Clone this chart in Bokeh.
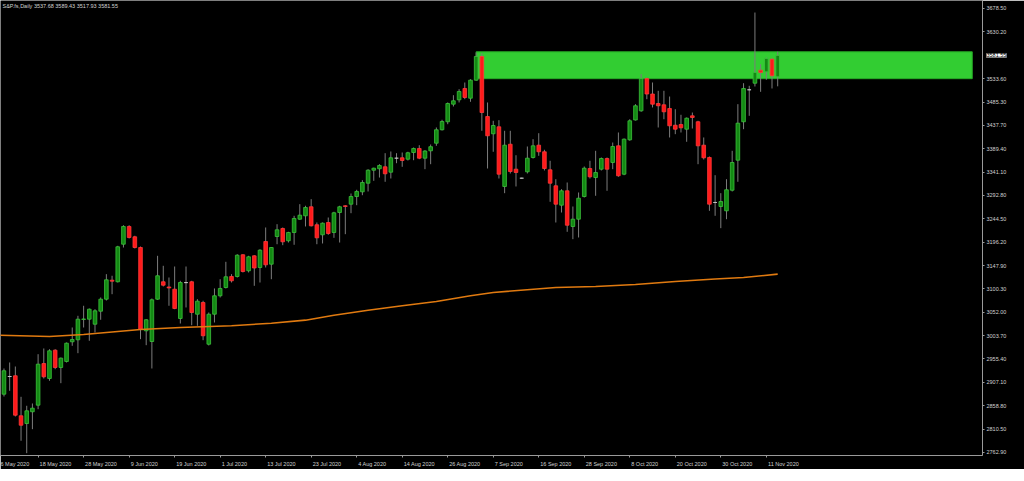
from bokeh.plotting import figure
from bokeh.models import (ColumnDataSource, FixedTicker, Range1d, Label,
                          PrintfTickFormatter)
from bokeh.embed import file_html
from bokeh.resources import INLINE

# ---------------- data (S&P.fs, Daily) ----------------
opens = [2882.8, 2919.3, 2920.8, 2838.2, 2822.3, 2846.5, 2860.1, 2946.1, 2915.2, 2973.6,
         2937.9, 2950.3, 2990.9, 2995.0, 3037.0, 3037.5, 3027.2, 3054.0, 3078.8, 3118.0,
         3114.7, 3192.2, 3228.8, 3207.5, 3185.4, 3013.6, 2991.5, 3078.8, 3114.7, 3104.0,
         3099.4, 3039.0, 3113.0, 3114.7, 3047.8, 3072.0, 2985.9, 3047.8, 3085.8, 3102.9,
         3125.6, 3125.6, 3170.4, 3137.4, 3168.3, 3144.2, 3197.8, 3151.0, 3208.1, 3224.6,
         3199.3, 3216.4, 3243.8, 3250.8, 3269.4, 3232.3, 3211.6, 3237.0, 3216.4, 3257.6,
         3271.5, 3274.8, 3290.6, 3300.3, 3318.1, 3344.9, 3347.8, 3351.9, 3340.8, 3369.7,
         3370.5, 3367.6, 3381.4, 3389.7, 3369.7, 3384.9, 3400.6, 3428.3, 3444.8, 3481.1,
         3490.1, 3513.5, 3493.4, 3530.6, 3579.5, 3455.7, 3420.0, 3434.4, 3311.3, 3398.5,
         3347.0, 3328.4, 3341.6, 3371.1, 3396.5, 3382.9, 3345.7, 3312.7, 3272.7, 3302.4,
         3228.8, 3243.8, 3290.6, 3348.4, 3329.8, 3347.0, 3369.0, 3360.8, 3395.2, 3336.7,
         3407.6, 3448.5, 3467.4, 3534.1, 3502.1, 3482.5, 3479.8, 3472.2, 3437.7, 3439.2,
         3429.5, 3457.1, 3444.8, 3396.5, 3371.1, 3278.3, 3270.0, 3261.1, 3303.6, 3365.5,
         3444.8, 3510.8, 3524.4, 3551.2, 3547.9, 3573.9, 3537.68]
highs = [2935.8, 2948.2, 2939.9, 2877.4, 2858.9, 2863.6, 2965.3, 2977.1, 2975.6, 2975.6,
         2958.5, 2989.4, 3020.4, 3044.5, 3065.2, 3059.6, 3058.1, 3082.3, 3130.4, 3127.1,
         3188.9, 3231.4, 3231.4, 3209.6, 3187.5, 3037.5, 3080.2, 3168.3, 3147.7, 3123.5,
         3146.2, 3116.7, 3146.2, 3116.7, 3078.8, 3075.5, 3051.3, 3100.9, 3120.0, 3155.9,
         3130.4, 3171.6, 3171.6, 3168.3, 3169.5, 3181.9, 3226.7, 3186.0, 3233.5, 3226.7,
         3217.8, 3250.8, 3274.8, 3271.5, 3285.1, 3237.0, 3237.0, 3247.3, 3259.1, 3271.5,
         3272.7, 3296.8, 3304.5, 3324.3, 3347.0, 3350.1, 3357.3, 3380.0, 3383.5, 3380.0,
         3381.4, 3382.9, 3391.7, 3396.5, 3386.2, 3397.9, 3433.0, 3448.9, 3484.6, 3499.6,
         3512.0, 3525.8, 3532.6, 3587.7, 3586.3, 3484.6, 3446.8, 3448.1, 3426.2, 3426.2,
         3375.8, 3329.5, 3393.8, 3408.9, 3421.2, 3387.0, 3364.3, 3326.3, 3305.7, 3319.5,
         3270.0, 3298.9, 3352.5, 3364.3, 3384.9, 3371.1, 3371.1, 3402.0, 3422.7, 3410.3,
         3450.1, 3481.1, 3543.0, 3536.1, 3525.8, 3508.7, 3508.7, 3496.9, 3470.7, 3459.2,
         3453.6, 3463.9, 3446.8, 3412.4, 3373.2, 3334.6, 3297.5, 3326.3, 3384.9, 3481.1,
         3524.4, 3519.0, 3670.2, 3563.6, 3577.4, 3575.3, 3589.43]
lows = [2878.0, 2889.8, 2836.8, 2786.7, 2761.1, 2810.6, 2851.8, 2915.2, 2910.4, 2934.4,
        2905.5, 2948.2, 2982.6, 2967.4, 3020.4, 2993.0, 3010.1, 3036.3, 3076.1, 3089.1,
        3113.2, 3185.4, 3204.0, 3183.4, 2996.3, 2983.9, 2935.8, 3077.5, 3105.0, 3065.2,
        3058.1, 3028.6, 3061.7, 3025.1, 3023.9, 2994.2, 2983.3, 3030.7, 3082.3, 3100.9,
        3113.2, 3123.5, 3133.9, 3133.9, 3106.4, 3113.2, 3144.2, 3120.0, 3192.2, 3190.2,
        3195.7, 3191.0, 3242.6, 3228.8, 3228.8, 3192.2, 3193.7, 3211.6, 3205.4, 3195.7,
        3212.9, 3256.2, 3272.7, 3293.3, 3301.0, 3323.0, 3329.8, 3321.0, 3327.8, 3359.3,
        3351.9, 3364.9, 3365.5, 3367.6, 3347.0, 3357.3, 3395.2, 3426.8, 3439.8, 3476.3,
        3484.6, 3491.4, 3486.0, 3529.3, 3426.2, 3348.4, 3382.9, 3327.8, 3297.5, 3338.1,
        3311.3, 3327.5, 3338.1, 3369.0, 3374.6, 3344.3, 3279.7, 3237.0, 3257.6, 3217.8,
        3202.6, 3206.1, 3288.6, 3327.8, 3292.1, 3344.3, 3302.4, 3347.0, 3331.3, 3334.6,
        3405.6, 3447.4, 3465.4, 3491.4, 3474.3, 3433.0, 3450.1, 3412.4, 3419.2, 3422.7,
        3403.5, 3430.9, 3357.3, 3367.0, 3261.1, 3250.8, 3225.3, 3243.8, 3301.0, 3321.0,
        3429.5, 3457.1, 3517.6, 3506.6, 3531.4, 3513.5, 3517.93]
closes = [2931.1, 2919.3, 2839.5, 2818.8, 2848.5, 2853.9, 2944.7, 2918.7, 2972.3, 2937.9,
          2957.1, 2988.0, 2995.6, 3037.5, 3038.0, 3058.1, 3054.8, 3078.8, 3118.8, 3115.9,
          3186.9, 3228.8, 3206.1, 3185.4, 3016.9, 3036.3, 3077.5, 3127.1, 3107.7, 3102.0,
          3059.6, 3113.2, 3113.0, 3051.3, 3074.7, 3003.3, 3047.8, 3085.8, 3100.9, 3125.0,
          3116.7, 3169.5, 3135.9, 3166.2, 3143.1, 3179.9, 3149.7, 3185.4, 3221.9, 3197.2,
          3216.4, 3245.3, 3252.1, 3268.0, 3230.2, 3205.4, 3235.6, 3214.3, 3257.0, 3269.4,
          3270.0, 3290.6, 3301.0, 3319.5, 3344.9, 3349.0, 3354.6, 3337.5, 3370.5, 3369.7,
          3364.9, 3380.8, 3389.7, 3369.7, 3384.5, 3393.4, 3428.3, 3445.4, 3482.5, 3488.1,
          3507.3, 3494.9, 3530.6, 3579.5, 3463.9, 3415.9, 3437.1, 3336.7, 3396.5, 3342.2,
          3340.2, 3328.4, 3369.7, 3395.2, 3382.9, 3348.4, 3318.1, 3274.8, 3302.4, 3231.4,
          3243.8, 3287.1, 3349.0, 3331.3, 3340.2, 3369.0, 3347.0, 3393.8, 3333.4, 3408.9,
          3446.8, 3477.8, 3534.1, 3502.1, 3481.1, 3477.8, 3465.4, 3436.5, 3429.5, 3432.4,
          3452.2, 3453.6, 3395.2, 3370.5, 3274.8, 3278.3, 3280.3, 3304.5, 3360.8, 3441.9,
          3513.5, 3510.8, 3546.5, 3546.5, 3575.3, 3539.7, 3581.55]

# moving average read at selected bars
ma_bar = [-1, 8, 14, 24, 31, 40, 47, 53, 58, 64, 70, 76, 82, 86, 97, 104, 111, 118, 125, 130, 136]
ma_val = [3004.5, 3001.8, 3006.0, 3016.3, 3020.4, 3023.9, 3029.3, 3035.5, 3045.8, 3056.1,
          3065.2, 3074.0, 3085.8, 3092.6, 3102.9, 3105.0, 3109.1, 3115.3, 3120.5, 3123.5, 3130.5]

# resistance zone
zone_start_bar = 83.0
zone_end_bar = 170.2
zone_low = 3533.7
zone_high = 3589.2

# axis labels
date_tick_bar = [-2, 6, 14, 22, 30, 38, 46, 54, 62, 70, 78, 86, 94, 102, 110, 118, 126, 134]
date_tick_text = ["6 May 2020", "18 May 2020", "28 May 2020", "9 Jun 2020", "19 Jun 2020",
                  "1 Jul 2020", "13 Jul 2020", "23 Jul 2020", "4 Aug 2020", "14 Aug 2020",
                  "26 Aug 2020", "7 Sep 2020", "16 Sep 2020", "28 Sep 2020", "8 Oct 2020",
                  "20 Oct 2020", "30 Oct 2020", "11 Nov 2020"]
price_ticks = [2762.90, 2810.50, 2858.80, 2907.10, 2955.40, 3003.70, 3052.00, 3100.30,
               3147.90, 3196.20, 3244.50, 3292.80, 3341.10, 3389.40, 3437.70, 3485.30,
               3533.60, 3630.20, 3678.50]
symbol_title = "S&P.fs,Daily  3537.68 3589.43 3517.93 3581.55"
last_price = 3581.55

# ---------------- styling ----------------
UP_FILL, UP_LINE = "#138a13", "#3cc23c"
DN_FILL, DN_LINE = "#ff1a1a", "#ff3a3a"
FLAT_LINE = "#c8c8c8"
WICK = "#7c7c7c"
AXIS = "#9a9a9a"
TXT = "#d2d2d2"
FONT = "Liberation Sans"
FS_PX = 5.5
FS = f"{FS_PX}px"
X0, X1 = -0.61, 172.0
FW, FH = 982, 455

n = len(opens)
bars = list(range(n))
fills, lines, tops, bottoms = [], [], [], []
for o, c in zip(opens, closes):
    tops.append(max(o, c))
    bottoms.append(min(o, c))
    if c > o:
        fills.append(UP_FILL); lines.append(UP_LINE)
    elif c < o:
        fills.append(DN_FILL); lines.append(DN_LINE)
    else:
        fills.append(FLAT_LINE); lines.append(FLAT_LINE)

src = ColumnDataSource(dict(i=bars, o=opens, h=highs, l=lows, c=closes,
                            top=tops, bottom=bottoms, fill=fills, line=lines))

p = figure(frame_width=FW, frame_height=FH,
           x_range=Range1d(X0, X1), y_range=Range1d(2756.3, 3695.0),
           output_backend="svg", toolbar_location=None,
           y_axis_location="right", x_axis_location="below",
           min_border_left=0, min_border_top=0, min_border_right=0, min_border_bottom=0,
           background_fill_color="black", border_fill_color="black",
           outline_line_color=None)
p.grid.visible = False

# zone (background object)
p.quad(left=[zone_start_bar], right=[zone_end_bar], bottom=[zone_low], top=[zone_high],
       fill_color="#32cd32", line_color="#25a825", line_width=1)

# candles
p.segment(x0="i", y0="h", x1="i", y1="l", source=src, line_color=WICK, line_width=1)
p.vbar(x="i", width=0.64, top="top", bottom="bottom", source=src,
       fill_color="fill", line_color="line", line_width=0.8)

# moving average
p.line(ma_bar, ma_val, line_color="#e07a10", line_width=1.6)

# y axis (right)
p.yaxis.ticker = FixedTicker(ticks=price_ticks)
p.yaxis.formatter = PrintfTickFormatter(format="%.2f")
p.yaxis.major_label_text_font = FONT
p.yaxis.major_label_text_font_size = FS
p.yaxis.major_label_text_color = TXT
p.yaxis.axis_line_color = AXIS
p.yaxis.major_tick_line_color = AXIS
p.yaxis.major_tick_out = 2
p.yaxis.major_tick_in = 0
p.yaxis.minor_tick_line_color = None
p.yaxis.major_label_standoff = 2

# x axis: MetaTrader writes each date starting at its bar, so the (centred)
# axis label sits half a text width right of the bar; the bar gets a tick mark.
CW = {" ": 0.278, "M": 0.833, "a": 0.556, "y": 0.5, "J": 0.5, "u": 0.556, "n": 0.556,
      "l": 0.222, "A": 0.667, "g": 0.556, "S": 0.667, "e": 0.556, "p": 0.556, "O": 0.778,
      "c": 0.5, "t": 0.278, "N": 0.722, "o": 0.556, "v": 0.5}
px_per_bar = FW / (X1 - X0)
label_pos = []
for b, t in zip(date_tick_bar, date_tick_text):
    w = sum(CW.get(ch, 0.556) for ch in t) * FS_PX
    label_pos.append(round(b + (w / 2 + 1.5) / px_per_bar, 3))
p.xaxis.ticker = FixedTicker(ticks=label_pos, minor_ticks=date_tick_bar)
p.xaxis.major_label_overrides = {k: t for k, t in zip(label_pos, date_tick_text)}
p.xaxis.major_label_text_font = FONT
p.xaxis.major_label_text_font_size = FS
p.xaxis.major_label_text_color = TXT
p.xaxis.axis_line_color = AXIS
p.xaxis.major_tick_line_color = None
p.xaxis.major_tick_out = 0
p.xaxis.major_tick_in = 0
p.xaxis.minor_tick_line_color = AXIS
p.xaxis.minor_tick_out = 2
p.xaxis.minor_tick_in = 0
p.xaxis.major_label_standoff = 3

# current price box on the price scale
p.add_layout(Label(x=-23, y=last_price, x_units="screen", y_units="data",
                   text=f"{last_price:.2f}", text_font=FONT, text_font_size=FS,
                   text_color="black", text_baseline="middle", text_align="left",
                   background_fill_color="white", border_line_color="#808080"), "right")

# title
p.add_layout(Label(x=2, y=FH - 2, x_units="screen", y_units="screen", text=symbol_title,
                   text_font=FONT, text_font_size=FS, text_color=TXT,
                   text_baseline="top", text_align="left"))

open("out.html", "w").write(file_html(p, INLINE))
